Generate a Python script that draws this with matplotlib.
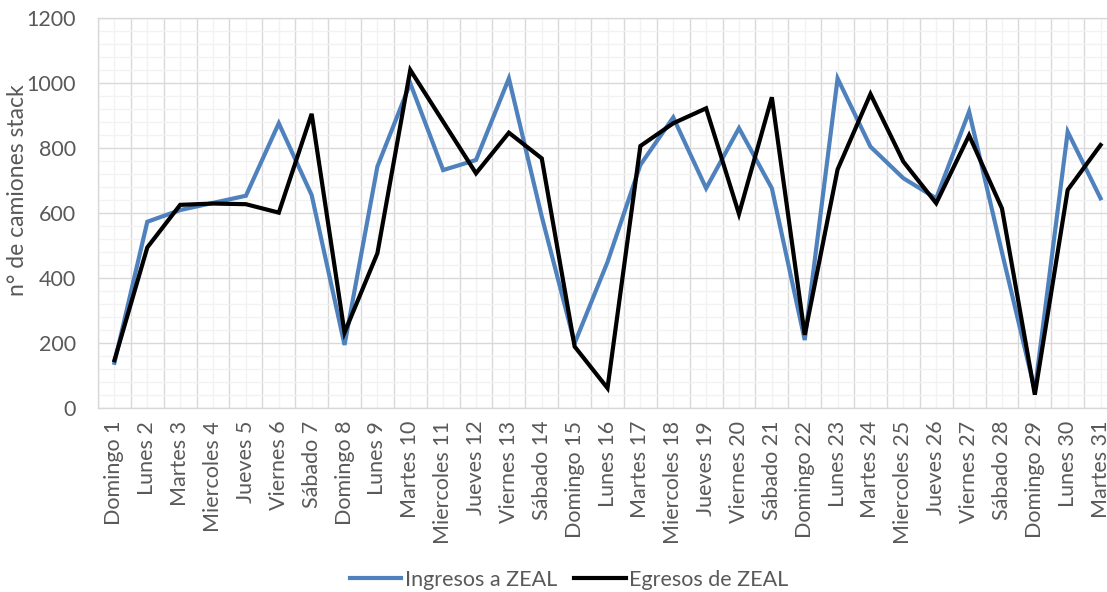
import matplotlib
matplotlib.use("Agg")
import matplotlib.pyplot as plt
from matplotlib.ticker import MultipleLocator, FixedLocator

categories = ["Domingo 1", "Lunes 2", "Martes 3", "Miercoles 4", "Jueves 5", "Viernes 6",
              "Sábado 7", "Domingo 8", "Lunes 9", "Martes 10", "Miercoles 11", "Jueves 12",
              "Viernes 13", "Sábado 14", "Domingo 15", "Lunes 16", "Martes 17", "Miercoles 18",
              "Jueves 19", "Viernes 20", "Sábado 21", "Domingo 22", "Lunes 23", "Martes 24",
              "Miercoles 25", "Jueves 26", "Viernes 27", "Sábado 28", "Domingo 29", "Lunes 30",
              "Martes 31"]

ingresos = [140, 574, 610, 632, 654, 877, 656, 195, 744, 1000, 733, 764, 1015, 590, 200,
            450, 749, 895, 677, 862, 677, 210, 1015, 805, 708, 646, 913, 480, 55, 851, 646]

egresos = [148, 495, 626, 630, 628, 602, 906, 233, 477, 1041, 882, 723, 848, 769, 190,
           62, 807, 877, 923, 598, 957, 226, 735, 967, 759, 631, 840, 615, 42, 672, 810]

series_names = ["Ingresos a ZEAL", "Egresos de ZEAL"]
y_label = "n° de camiones stack"

plt.rcParams['font.family'] = ['Lato', 'DejaVu Sans']
gray = '#595959'

fig = plt.figure(figsize=(11.07, 5.92), dpi=100)
ax = fig.add_axes([98/1107, 1 - 408.3/592, (1117 - 98)/1107, (408.3 - 18.3)/592])

x = list(range(len(categories)))
ax.plot(x, ingresos, color='#4F81BD', lw=3.0, label=series_names[0], solid_joinstyle='miter', zorder=3)
ax.plot(x, egresos, color='black', lw=3.0, label=series_names[1], solid_joinstyle='miter', zorder=4)

ax.set_xlim(-0.5, len(categories) - 0.5)
ax.set_ylim(0, 1200)
ax.yaxis.set_major_locator(MultipleLocator(200))
ax.yaxis.set_minor_locator(MultipleLocator(40))
ax.set_xticks(x)
ax.set_xticklabels(categories, rotation=90)
ax.xaxis.set_minor_locator(FixedLocator([i - 0.5 for i in range(len(categories) + 1)]))

ax.grid(False)
ax.grid(which='minor', axis='x', color='#D9D9D9', lw=1.0, zorder=0)
ax.grid(which='major', axis='x', color='#F2F2F2', lw=1.0, zorder=0)
ax.grid(which='major', axis='y', color='#D9D9D9', lw=1.0, zorder=1)
ax.grid(which='minor', axis='y', color='#F2F2F2', lw=1.0, zorder=0)
ax.set_axisbelow(True)

for s in ax.spines.values():
    s.set_color('#D9D9D9')
    s.set_linewidth(1.0)

ax.tick_params(axis='both', which='both', length=0, colors=gray, labelsize=15.5)
ax.tick_params(axis='x', pad=9)
ax.tick_params(axis='y', pad=16)
ax.set_ylabel(y_label, color=gray, fontsize=16.5)
ax.yaxis.set_label_coords((28 - 98) / 1019, (408.3 - 190) / 390)

fig.legend(loc='center', bbox_to_anchor=(569 / 1107, 1 - 580/592), ncol=2, frameon=False,
           fontsize=15.5, labelcolor=gray, handlelength=2.4, handletextpad=0.15,
           columnspacing=0.8)

fig.savefig('out.png', dpi=100)
